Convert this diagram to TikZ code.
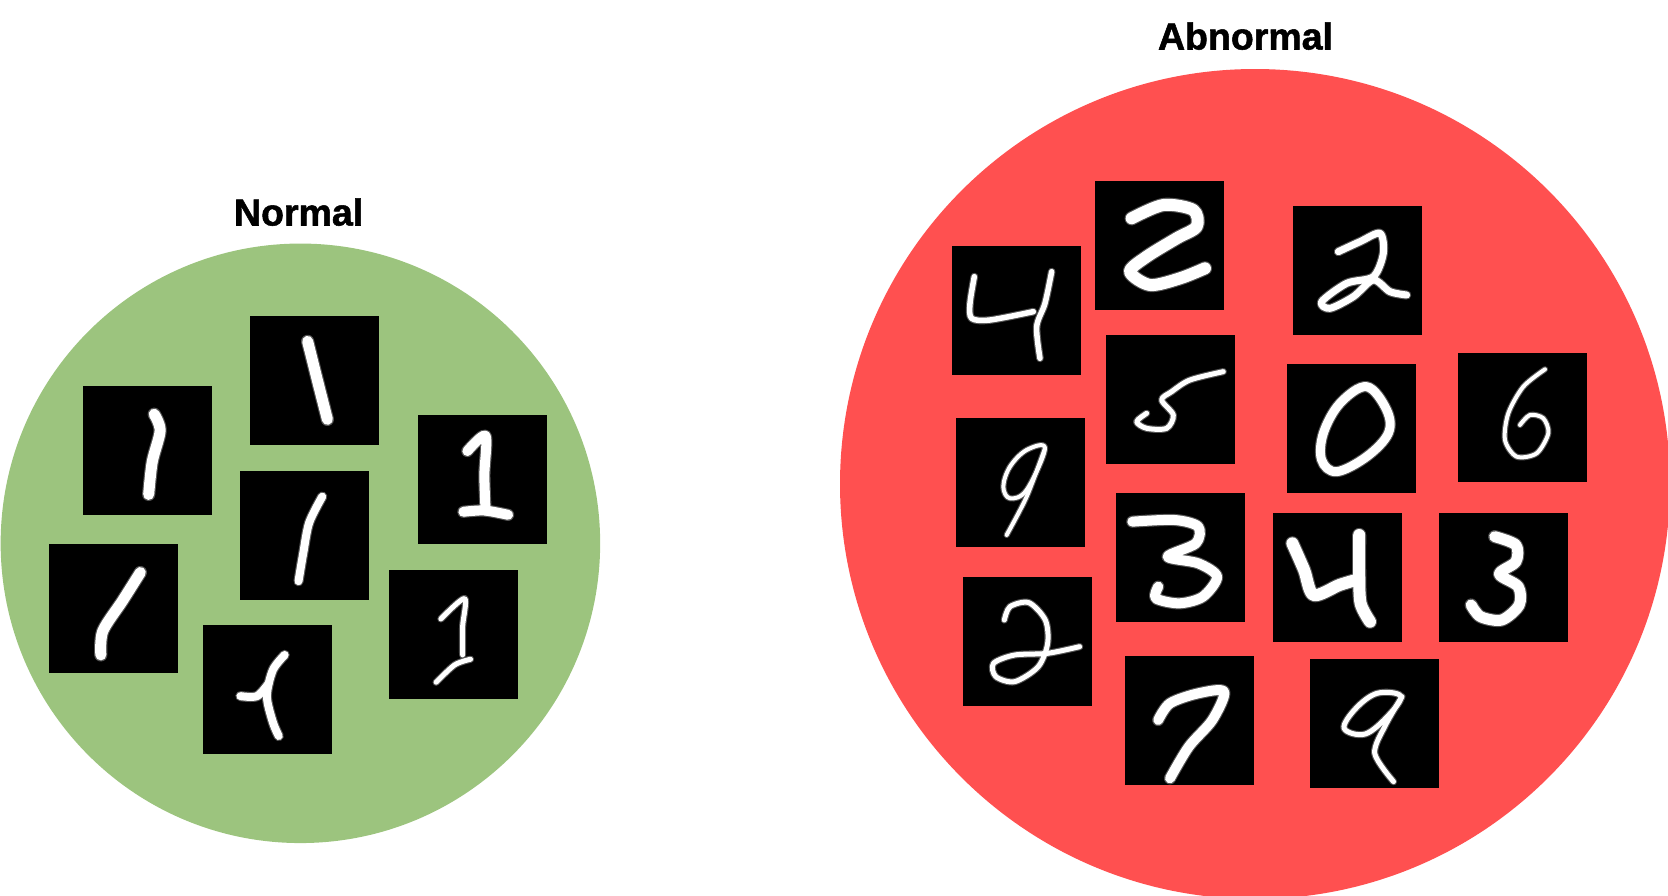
\documentclass[tikz,border=0pt]{standalone}
\usepackage{fontspec}
\newfontfamily\lab[FakeBold=1.4]{Liberation Sans Bold}
\definecolor{okgreen}{HTML}{9CC47E}
\definecolor{badred}{HTML}{FF5050}
\tikzset{
  blob/.style={circle,inner sep=0pt,draw=none},
  tile/.style={fill=black,draw=none,inner sep=0pt,minimum width=129pt,minimum height=128.8pt},
  heading/.style={font=\lab\fontsize{37.5}{37.5}\selectfont,inner sep=0pt,anchor=base,text=black},
  pen/.style={line cap=round,line join=round}
}
% a pen stroke: soft grey rim, white core
\newcommand\stk[2]{%
  \draw[pen,gray!65!black,line width=#1pt+2.2pt] plot[smooth,tension=.5] coordinates {#2};
  \draw[pen,white,line width=#1pt] plot[smooth,tension=.5] coordinates {#2};}
% two strokes of one digit: both rims first, so that no rim cuts a core
\newcommand\stkk[3]{%
  \draw[pen,gray!65!black,line width=#1pt+2.2pt] plot[smooth,tension=.5] coordinates {#2};
  \draw[pen,gray!65!black,line width=#1pt+2.2pt] plot[smooth,tension=.5] coordinates {#3};
  \draw[pen,white,line width=#1pt] plot[smooth,tension=.5] coordinates {#2};
  \draw[pen,white,line width=#1pt] plot[smooth,tension=.5] coordinates {#3};}
% closed loop with a tail
\newcommand\stkl[3]{%
  \draw[pen,gray!65!black,line width=#1pt+2.2pt] plot[smooth cycle,tension=.6] coordinates {#2};
  \draw[pen,gray!65!black,line width=#1pt+2.2pt] plot[smooth,tension=.5] coordinates {#3};
  \draw[pen,white,line width=#1pt] plot[smooth cycle,tension=.6] coordinates {#2};
  \draw[pen,white,line width=#1pt] plot[smooth,tension=.5] coordinates {#3};}
\newcommand\stkc[2]{%
  \draw[pen,gray!65!black,line width=#1pt+2.2pt] plot[smooth cycle,tension=.6] coordinates {#2};
  \draw[pen,white,line width=#1pt] plot[smooth cycle,tension=.6] coordinates {#2};}
\begin{document}
\begin{tikzpicture}[x=1pt,y=-1pt]
\useasboundingbox (0,0) rectangle (1668,895);
\clip (0,0) rectangle (1668,895);
\node[blob,fill=okgreen,minimum size=599.5pt] (green) at (300.4,543.3) {};
\node[blob,fill=badred,minimum size=830pt] (red) at (1255,484) {};
\node[heading] (tn) at (298.6,225.5) {Normal};
\node[heading] (ta) at (1245.5,49.5) {Abnormal};
% normal tiles
\node[tile] (n1) at (314.75,380.8) {};
\node[tile] (n2) at (147.85,450.6) {};
\node[tile] (n3) at (482.8,479.25) {};
\node[tile] (n4) at (304.85,535.2) {};
\node[tile] (n5) at (113.65,608.65) {};
\node[tile] (n6) at (267.65,689.7) {};
\node[tile] (n7) at (453.95,634.65) {};
% abnormal tiles
\node[tile] (a1) at (1016.65,310.15) {};
\node[tile] (a2) at (1159.8,245.65) {};
\node[tile] (a3) at (1170.8,399.65) {};
\node[tile] (a4) at (1020.65,482.65) {};
\node[tile] (a5) at (1180.65,557.15) {};
\node[tile] (a6) at (1357.8,270.65) {};
\node[tile] (a7) at (1351.8,428.65) {};
\node[tile] (a8) at (1522.8,417.8) {};
\node[tile] (a9) at (1337.75,577.65) {};
\node[tile] (a10) at (1503.6,577.65) {};
\node[tile] (a11) at (1027.2,641.65) {};
\node[tile] (a12) at (1189.75,720.65) {};
\node[tile] (a13) at (1374.45,723.15) {};
% digits, normal
\begin{scope}[shift={(0,180)},x=0.3954pt,y=-0.4337pt]
\stk{11}{(778,372) (805,470) (828,552)}
\stk{11}{(390,540) (405,578) (385,650) (376,725)}
\stkk{10}{(1182,625) (1228,590) (1225,680) (1228,762)}{(1172,765) (1225,762) (1285,772)}
\stk{8}{(815,730) (782,790) (767,860) (755,925)}
\stk{11}{(355,905) (310,970) (260,1040) (255,1095)}
\stkk{8}{(720,1095) (690,1130) (675,1190) (690,1250) (705,1282)}{(608,1190) (650,1190) (680,1160)}
\stkk{5}{(1115,1012) (1175,965) (1170,1030) (1170,1095)}{(1190,1105) (1150,1118) (1103,1158)}
\end{scope}
% digits, abnormal, upper left
\begin{scope}[shift={(930,170)},x=0.3333pt,y=-0.3333pt]
\stkk{5.5}{(133,320) (120,400) (125,445) (180,450) (310,425)}{(365,305) (345,400) (320,470) (330,565)}
\stk{12}{(605,145) (700,105) (790,120) (800,170) (740,205) (650,260) (600,305) (660,345) (750,325) (825,295)}
\stk{5}{(880,605) (780,630) (725,665) (695,690) (730,735) (710,775) (650,775) (620,755) (650,730)}
\stkl{4}{(345,835) (290,840) (240,890) (220,950) (240,985) (290,960)}{(345,835) (290,980) (230,1095)}
\end{scope}
% digits, abnormal, upper right
\begin{scope}[shift={(1260,170)},x=0.3333pt,y=-0.3333pt]
\stk{7}{(235,245) (300,215) (360,190) (370,250) (340,320) (260,340) (185,395) (210,415) (280,380) (340,330) (390,365) (440,375)}
\stkc{9}{(320,650) (380,720) (385,790) (320,860) (230,905) (185,870) (190,790) (240,700)}
\stk{4}{(855,598) (790,650) (745,730) (735,810) (770,860) (830,850) (865,790) (850,745) (810,735) (780,765)}
\end{scope}
% digits, abnormal, lower
\begin{scope}[shift={(930,480)},x=0.4706pt,y=-0.3333pt]
\stk{10}{(430,125) (520,120) (570,140) (565,190) (505,230) (570,250) (610,290) (580,350) (530,370) (480,355) (485,320)}
\stkk{12}{(770,190) (795,270) (815,345) (870,315) (905,300)}{(912,165) (912,280) (915,370) (935,425)}
\stk{11}{(1200,170) (1245,195) (1245,245) (1210,282) (1250,320) (1252,375) (1215,420) (1170,410) (1150,375)}
\stk{5}{(158,420) (170,380) (210,368) (245,420) (250,490) (230,560) (180,605) (140,590) (135,550) (180,525) (250,520) (318,500)}
\stk{10}{(485,720) (510,670) (570,640) (625,635) (600,720) (550,800) (510,895)}
\stkl{5}{(1000,648) (950,640) (905,685) (880,745) (925,762) (975,705)}{(1003,650) (968,735) (945,820) (985,905)}
\end{scope}
\end{tikzpicture}
\end{document}
